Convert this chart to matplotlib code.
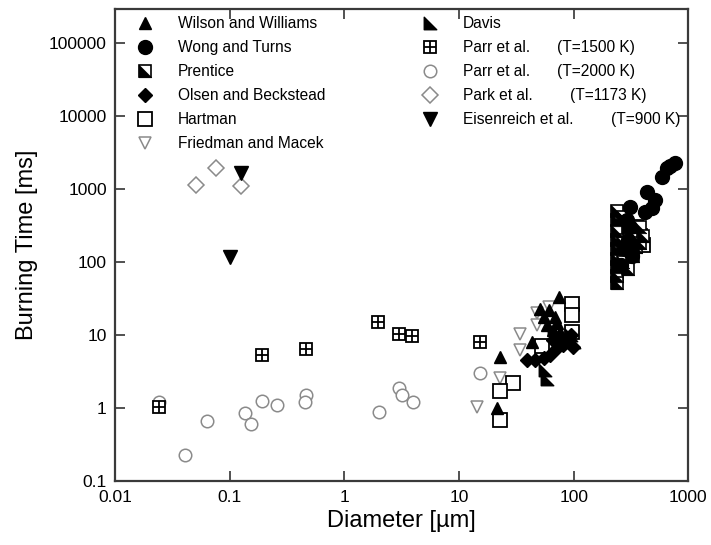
import numpy as np
import matplotlib.pyplot as plt
from matplotlib.path import Path

plt.rcParams['font.family'] = ['Liberation Sans', 'DejaVu Sans']

# Data (diameter in um, burning time in ms)
wilson_d = [22.8, 21.6, 75, 51, 61, 55, 69, 58, 72, 43.5, 76, 66]
wilson_t = [5.0, 1.0, 33, 23, 22, 17.5, 18, 13.7, 14.5, 8.0, 11, 11.7]

wong_d = [770, 700, 656, 593, 439, 515, 485, 422, 312, 294, 312, 280, 300, 320, 260]
wong_t = [2270, 2100, 1940, 1460, 910, 707, 550, 484, 566, 376, 301, 150, 200, 120, 90]

prentice_d = [240, 240, 240, 240, 240, 240, 240, 240, 240, 270, 270, 270,
              300, 300, 300, 330, 330, 350, 380, 380, 400]
prentice_t = [500, 380, 270, 200, 150, 110, 85, 65, 52, 420, 180, 100,
              300, 150, 80, 230, 120, 160, 180, 300, 230]

olsen_d = [39.4, 46, 54.6, 62.6, 72, 66, 81, 88, 94, 76, 98]
olsen_t = [4.6, 4.6, 4.8, 5.3, 6.6, 8.5, 7.3, 8.5, 10, 9.4, 6.9]

hartman_d = [97, 97, 97, 53, 29.7, 22.9, 22.9, 350, 380, 400, 300]
hartman_t = [27, 19, 11, 7.0, 2.2, 1.7, 0.7, 300, 230, 170, 130]

friedman_d = [48, 48, 34, 34, 22.9, 14.4, 61]
friedman_t = [20, 13.7, 10.4, 6.2, 2.6, 1.05, 24]

davis_d = [56.5, 58.7, 95, 100, 68]
davis_t = [3.3, 2.5, 10, 8, 12]

parr1500_d = [0.0242, 0.19, 0.46, 1.97, 3.0, 3.9, 15.3]
parr1500_t = [1.05, 5.3, 6.5, 15, 10.5, 9.8, 8.0]

parr2000_d = [0.0242, 0.041, 0.0635, 0.135, 0.154, 0.192, 0.259, 0.46, 0.455,
              2.0, 3.0, 3.2, 4.0, 15.3]
parr2000_t = [1.2, 0.23, 0.66, 0.85, 0.6, 1.25, 1.12, 1.5, 1.2,
              0.9, 1.9, 1.5, 1.2, 3.0]

park_d = [0.051, 0.076, 0.126]
park_t = [1130, 1940, 1100]

eisen_d = [0.126, 0.1]
eisen_t = [1650, 117]

# custom markers
half_sq = Path([(-1, -1), (-1, 1), (1, -1), (-1, -1)],
               [Path.MOVETO, Path.LINETO, Path.LINETO, Path.CLOSEPOLY])

gray = '#8a8a8a'
ms = 9


def draw_prentice(ax, x, y, **kw):
    ax.plot(x, y, ls='none', marker='s', ms=ms, mfc='white', mec='black', mew=1.2, **kw)
    ax.plot(x, y, ls='none', marker=half_sq, ms=ms, mfc='black', mec='black', mew=0.5, **kw)


def draw_parr1500(ax, x, y, **kw):
    ax.plot(x, y, ls='none', marker='s', ms=ms, mfc='white', mec='black', mew=1.3, **kw)
    ax.plot(x, y, ls='none', marker='+', ms=ms, mec='black', mew=1.3, **kw)


def draw_set(ax, key, x, y, **kw):
    if key == 'wilson':
        ax.plot(x, y, ls='none', marker='^', ms=ms, color='black', **kw)
    elif key == 'wong':
        ax.plot(x, y, ls='none', marker='o', ms=10, color='black', **kw)
    elif key == 'prentice':
        draw_prentice(ax, x, y, **kw)
    elif key == 'olsen':
        ax.plot(x, y, ls='none', marker='D', ms=7.5, color='black', **kw)
    elif key == 'hartman':
        ax.plot(x, y, ls='none', marker='s', ms=10, mfc='white', mec='black', mew=1.3, **kw)
    elif key == 'friedman':
        ax.plot(x, y, ls='none', marker='v', ms=8.5, mfc='white', mec=gray, mew=1.1, **kw)
    elif key == 'davis':
        ax.plot(x, y, ls='none', marker=half_sq, ms=ms, color='black', **kw)
    elif key == 'parr1500':
        draw_parr1500(ax, x, y, **kw)
    elif key == 'parr2000':
        ax.plot(x, y, ls='none', marker='o', ms=9, mfc='white', mec=gray, mew=1.1, **kw)
    elif key == 'park':
        ax.plot(x, y, ls='none', marker='D', ms=8, mfc='white', mec=gray, mew=1.1, **kw)
    elif key == 'eisen':
        ax.plot(x, y, ls='none', marker='v', ms=10, color='black', **kw)


fig = plt.figure(figsize=(7.11, 5.45), dpi=100)
ax = fig.add_axes([0.162, 0.117, 0.806, 0.866])

draw_set(ax, 'parr2000', parr2000_d, parr2000_t)
draw_set(ax, 'parr1500', parr1500_d, parr1500_t)
draw_set(ax, 'park', park_d, park_t)
draw_set(ax, 'eisen', eisen_d, eisen_t)
draw_set(ax, 'friedman', friedman_d, friedman_t)
draw_set(ax, 'hartman', hartman_d, hartman_t)
draw_set(ax, 'prentice', prentice_d, prentice_t)
draw_set(ax, 'wong', wong_d, wong_t)
draw_set(ax, 'olsen', olsen_d, olsen_t)
draw_set(ax, 'wilson', wilson_d, wilson_t)
draw_set(ax, 'davis', davis_d, davis_t)

ax.set_xscale('log')
ax.set_yscale('log')
ax.set_xlim(0.01, 1000)
ax.set_ylim(0.1, 2.9e5)

xt = [0.01, 0.1, 1, 10, 100, 1000]
yt = [0.1, 1, 10, 100, 1000, 10000, 100000]
ax.set_xticks(xt)
ax.set_xticklabels(['0.01', '0.1', '1', '10', '100', '1000'])
ax.set_yticks(yt)
ax.set_yticklabels(['0.1', '1', '10', '100', '1000', '10000', '100000'])
ax.minorticks_off()
ax.tick_params(direction='in', length=7, width=1.2, top=True, right=True,
               labelsize=12.5, pad=6, color='#333333')
for s in ax.spines.values():
    s.set_linewidth(1.6)
    s.set_color('#3a3a3a')

ax.set_xlabel('Diameter [\u00b5m]', fontsize=17, labelpad=4)
ax.set_ylabel('Burning Time [ms]', fontsize=17, labelpad=8)

# hand-made legend in two columns
col1 = [('wilson', 'Wilson and Williams'), ('wong', 'Wong and Turns'),
        ('prentice', 'Prentice'), ('olsen', 'Olsen and Beckstead'),
        ('hartman', 'Hartman'), ('friedman', 'Friedman and Macek')]
col2 = [('davis', 'Davis', ''), ('parr1500', 'Parr et al.', '(T=1500 K)'),
        ('parr2000', 'Parr et al.', '(T=2000 K)'),
        ('park', 'Park et al.', '(T=1173 K)'),
        ('eisen', 'Eisenreich et al.', '(T=900 K)')]
temp_x = {'parr1500': 0.771, 'parr2000': 0.771, 'park': 0.794, 'eisen': 0.866}
row_y = 0.970
row_step = 0.0508
for i, (key, lab) in enumerate(col1):
    y = row_y - i * row_step
    draw_set(ax, key, [0.052], [y], transform=ax.transAxes, clip_on=False)
    ax.text(0.110, y, lab, transform=ax.transAxes, fontsize=11.2, va='center')
for i, (key, lab, temp) in enumerate(col2):
    y = row_y - i * row_step
    draw_set(ax, key, [0.550], [y], transform=ax.transAxes, clip_on=False)
    ax.text(0.607, y, lab, transform=ax.transAxes, fontsize=11.2, va='center')
    if temp:
        ax.text(temp_x[key], y, temp, transform=ax.transAxes, fontsize=11.2, va='center')

fig.savefig('out.png', dpi=100)
